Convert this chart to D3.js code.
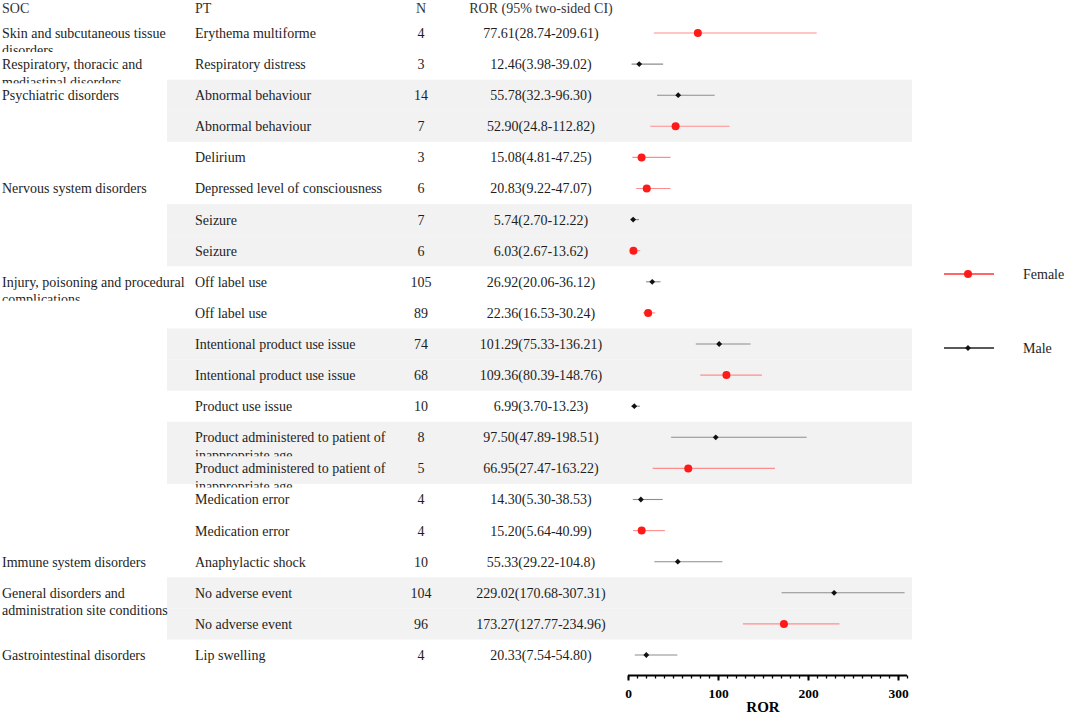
<!DOCTYPE html>
<html>
<head>
<meta charset="utf-8">
<script src="https://cdn.jsdelivr.net/npm/d3@7"></script>
<style>
  html, body { margin: 0; padding: 0; background: #fff; }
  svg { display: block; }
  text { font-family: "Liberation Serif", "Times New Roman", serif; }
</style>
</head>
<body>
<svg id="chart" width="1065" height="716"></svg>
<script>
// ---------------- data ----------------
const socLabels = [
  "Skin and subcutaneous tissue disorders",
  "Respiratory, thoracic and mediastinal disorders",
  "Psychiatric disorders", "", "",
  "Nervous system disorders", "", "",
  "Injury, poisoning and procedural complications", "", "", "", "", "", "", "", "",
  "Immune system disorders",
  "General disorders and administration site conditions", "",
  "Gastrointestinal disorders"
];
const ptLabels = [
  "Erythema multiforme", "Respiratory distress",
  "Abnormal behaviour", "Abnormal behaviour", "Delirium",
  "Depressed level of consciousness", "Seizure", "Seizure",
  "Off label use", "Off label use",
  "Intentional product use issue", "Intentional product use issue",
  "Product use issue",
  "Product administered to patient of inappropriate age",
  "Product administered to patient of inappropriate age",
  "Medication error", "Medication error",
  "Anaphylactic shock", "No adverse event", "No adverse event", "Lip swelling"
];
const nValues = [4, 3, 14, 7, 3, 6, 7, 6, 105, 89, 74, 68, 10, 8, 5, 4, 4, 10, 104, 96, 4];
const rorText = [
  "77.61(28.74-209.61)", "12.46(3.98-39.02)", "55.78(32.3-96.30)", "52.90(24.8-112.82)",
  "15.08(4.81-47.25)", "20.83(9.22-47.07)", "5.74(2.70-12.22)", "6.03(2.67-13.62)",
  "26.92(20.06-36.12)", "22.36(16.53-30.24)", "101.29(75.33-136.21)", "109.36(80.39-148.76)",
  "6.99(3.70-13.23)", "97.50(47.89-198.51)", "66.95(27.47-163.22)", "14.30(5.30-38.53)",
  "15.20(5.64-40.99)", "55.33(29.22-104.8)", "229.02(170.68-307.31)", "173.27(127.77-234.96)",
  "20.33(7.54-54.80)"
];
const rorEst   = [77.61, 12.46, 55.78, 52.90, 15.08, 20.83, 5.74, 6.03, 26.92, 22.36, 101.29, 109.36, 6.99, 97.50, 66.95, 14.30, 15.20, 55.33, 229.02, 173.27, 20.33];
const rorLow   = [28.74, 3.98, 32.3, 24.8, 4.81, 9.22, 2.70, 2.67, 20.06, 16.53, 75.33, 80.39, 3.70, 47.89, 27.47, 5.30, 5.64, 29.22, 170.68, 127.77, 7.54];
const rorHigh  = [209.61, 39.02, 96.30, 112.82, 47.25, 47.07, 12.22, 13.62, 36.12, 30.24, 136.21, 148.76, 13.23, 198.51, 163.22, 38.53, 40.99, 104.8, 307.31, 234.96, 54.80];
const sexes    = ["Female", "Male", "Male", "Female", "Female", "Female", "Male", "Female", "Male", "Female", "Male", "Female", "Male", "Male", "Female", "Male", "Female", "Male", "Male", "Female", "Male"];
const shadedRows = [2, 3, 6, 7, 10, 11, 13, 14, 18, 19];
const headers = ["SOC", "PT", "N", "ROR (95% two-sided CI)"];
const axisTicks = [0, 100, 200, 300];
const legendItems = ["Female", "Male"];
const axisTitle = "ROR";

// ---------------- layout ----------------
const svg = d3.select("#chart");
const nRows = ptLabels.length;
const idx = d3.range(nRows);
const y = d3.scaleBand().domain(idx).range([17.45, 17.45 + nRows * 31.1]).padding(0);
const yc = i => y(i) + y.bandwidth() / 2;
const x = d3.scaleLinear().domain([0, 310]).range([628, 907]);

const colX = { soc: 2, pt: 195, n: 421, ror: 541 };
const wrapW = { soc: 190, pt: 225 };
const shadeX0 = 167, shadeX1 = 912;
const color = { Female: "#ff1a1a", Male: "#111111" };
const ciColor = { Female: "#ff8c8c", Male: "#8c8c8c" };
const textCol = "#1e1e1e";
const unclipped = new Set([18]);

// shading
svg.append("g").selectAll("rect").data(shadedRows).join("rect")
  .attr("x", shadeX0).attr("width", shadeX1 - shadeX0)
  .attr("y", d => y(d)).attr("height", y.bandwidth())
  .attr("fill", "#f2f2f2");

// headers
const hdr = svg.append("g").attr("font-size", 14).attr("fill", "#333");
hdr.append("text").attr("x", colX.soc).attr("y", 8).attr("dy", "0.35em").text(headers[0]);
hdr.append("text").attr("x", colX.pt).attr("y", 8).attr("dy", "0.35em").text(headers[1]);
hdr.append("text").attr("x", colX.n).attr("y", 8).attr("dy", "0.35em").attr("text-anchor", "middle").text(headers[2]);
hdr.append("text").attr("x", colX.ror).attr("y", 8).attr("dy", "0.35em").attr("text-anchor", "middle").text(headers[3]);

// clip paths
const defs = svg.append("defs");
idx.forEach(i => {
  defs.append("clipPath").attr("id", "clip" + i)
    .append("rect").attr("x", 0).attr("width", 1065)
    .attr("y", y(i) - 2).attr("height", y.bandwidth() + 5.5);
});

function wrapText(g, str, x0, yy, width, clipId) {
  const t = g.append("text").attr("x", x0).attr("y", yy).attr("dy", "0.35em")
    .attr("font-size", 14).attr("fill", textCol);
  if (clipId) t.attr("clip-path", "url(#" + clipId + ")");
  const words = str.split(" ");
  let line = [];
  let lineNo = 0;
  let tspan = t.append("tspan").attr("x", x0).attr("y", yy).attr("dy", "0.35em");
  words.forEach(w => {
    line.push(w);
    tspan.text(line.join(" "));
    if (tspan.node().getComputedTextLength() > width && line.length > 1) {
      line.pop();
      tspan.text(line.join(" "));
      line = [w];
      lineNo++;
      tspan = t.append("tspan").attr("x", x0).attr("y", yy + lineNo * 17.5).attr("dy", "0.35em").text(w);
    }
  });
}

const rowsG = svg.append("g");
idx.forEach(i => {
  if (socLabels[i]) wrapText(rowsG, socLabels[i], colX.soc, yc(i), wrapW.soc, unclipped.has(i) ? null : "clip" + i);
  wrapText(rowsG, ptLabels[i], colX.pt, yc(i), wrapW.pt, "clip" + i);
});
rowsG.selectAll("text.n").data(idx).join("text").attr("class", "n")
  .attr("x", colX.n).attr("y", d => yc(d)).attr("dy", "0.35em")
  .attr("text-anchor", "middle").attr("font-size", 14).attr("fill", textCol)
  .text(d => nValues[d]);
rowsG.selectAll("text.r").data(idx).join("text").attr("class", "r")
  .attr("x", colX.ror).attr("y", d => yc(d)).attr("dy", "0.35em")
  .attr("text-anchor", "middle").attr("font-size", 14).attr("fill", textCol)
  .text(d => rorText[d]);

// CI lines and points
const plot = svg.append("g");
plot.selectAll("line.ci").data(idx).join("line").attr("class", "ci")
  .attr("x1", d => x(rorLow[d])).attr("x2", d => x(rorHigh[d]))
  .attr("y1", d => yc(d)).attr("y2", d => yc(d))
  .attr("stroke", d => ciColor[sexes[d]]).attr("stroke-width", 1.1);

const diamond = d3.symbol().type(d3.symbolSquare).size(17);
plot.selectAll("path.pt").data(idx.filter(i => sexes[i] === "Male")).join("path").attr("class", "pt")
  .attr("transform", d => `translate(${x(rorEst[d])},${yc(d)}) rotate(45)`)
  .attr("d", diamond).attr("fill", color.Male);
plot.selectAll("circle.pt").data(idx.filter(i => sexes[i] === "Female")).join("circle").attr("class", "pt")
  .attr("cx", d => x(rorEst[d])).attr("cy", d => yc(d)).attr("r", 4)
  .attr("fill", color.Female);

// axis
const axisY = 675.5;
const axisG = svg.append("g").attr("transform", `translate(0,${axisY})`);
axisG.call(d3.axisBottom(x).tickValues(d3.range(0, 311, 10)).tickSize(3).tickFormat(""))
  .call(g => g.select(".domain").attr("stroke-width", 2).attr("d", `M${x(0)},0H${x(310)}`))
  .call(g => g.selectAll(".tick line").attr("stroke", "#000").attr("stroke-width", 1.3));
const majorG = svg.append("g").attr("transform", `translate(0,${axisY})`);
majorG.call(d3.axisBottom(x).tickValues(axisTicks).tickSize(5).tickPadding(8).tickFormat(d3.format("d")))
  .call(g => g.select(".domain").remove())
  .call(g => g.selectAll(".tick line").attr("stroke", "#000").attr("stroke-width", 2))
  .call(g => g.selectAll(".tick text").attr("font-family", "Liberation Serif, serif")
    .attr("font-size", 13.5).attr("font-weight", "bold").attr("fill", "#000"));
svg.append("text").attr("x", x(150)).attr("y", 707).attr("dy", "0.35em")
  .attr("text-anchor", "middle").attr("font-size", 15).attr("font-weight", "bold")
  .text(axisTitle);

// legend
const legY = [274, 348];
const leg = svg.append("g");
legendItems.forEach((s, k) => {
  leg.append("line").attr("x1", 944).attr("x2", 994).attr("y1", legY[k]).attr("y2", legY[k])
    .attr("stroke", s === "Female" ? "#ff3333" : "#222").attr("stroke-width", 1.5);
  if (s === "Female") {
    leg.append("circle").attr("cx", 968).attr("cy", legY[k]).attr("r", 4).attr("fill", color.Female);
  } else {
    leg.append("path").attr("transform", `translate(968,${legY[k]}) rotate(45)`).attr("d", diamond).attr("fill", color.Male);
  }
  leg.append("text").attr("x", 1023).attr("y", legY[k]).attr("dy", "0.35em")
    .attr("font-size", 14).attr("fill", textCol).text(s);
});
</script>
</body>
</html>
